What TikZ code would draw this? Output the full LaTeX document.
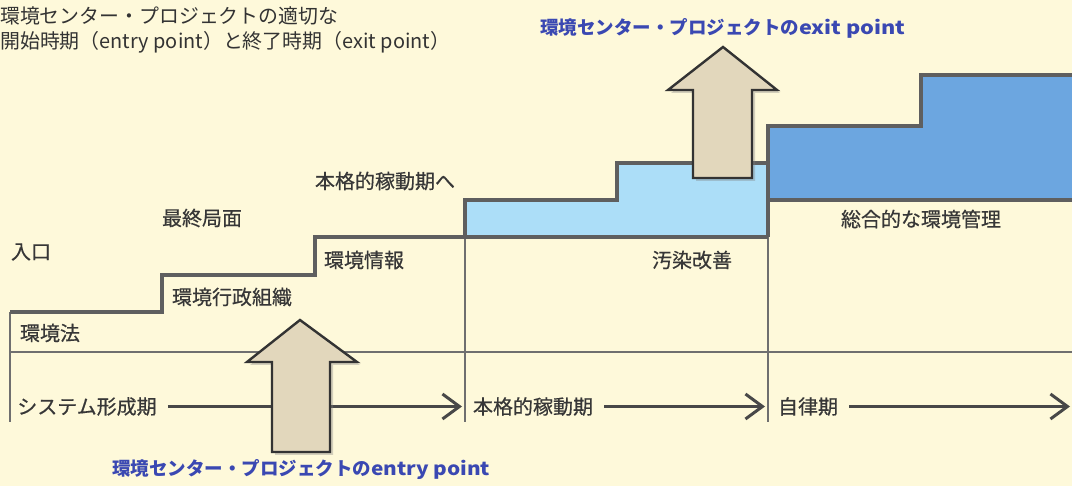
\documentclass[tikz,border=0pt]{standalone}
\usepackage{fontspec}
\setmainfont{Noto Sans CJK JP}
\newfontfamily\lblfont{Noto Sans CJK JP}[FakeBold=0.5]
\usepackage{graphicx}
\usetikzlibrary{arrows.meta,shadows}
\definecolor{bg}{RGB}{254,249,218}
\definecolor{lblue}{RGB}{172,222,248}
\definecolor{dblue}{RGB}{108,166,224}
\definecolor{edge}{RGB}{95,95,95}
\definecolor{beige}{RGB}{226,215,188}
\definecolor{ink}{RGB}{55,55,55}
\definecolor{tline}{RGB}{72,72,72}
\definecolor{bluetxt}{RGB}{58,72,178}
\tikzset{
  barbtip/.tip={Straight Barb[length=17pt,width=25pt,line width=3pt]},
}
\begin{document}
\begin{tikzpicture}[x=1pt,y=-1pt,
  lbl/.style={font=\lblfont\fontsize{20}{22}\selectfont, text=ink, inner sep=0pt},
  titletxt/.style={font=\fontsize{20}{22}\selectfont, text=black!80, inner sep=0pt, anchor=west},
  bluelbl/.style={font=\fontsize{18.5}{20}\selectfont\bfseries, text=bluetxt, inner sep=0pt, anchor=west},
  stair/.style={draw=edge, line width=3.4pt, line join=miter},
  divider/.style={draw=edge!90, line width=2.2pt},
  timeline/.style={draw=tline, line width=3pt, -barbtip},
  bigarrow/.style={fill=beige, draw=black!80, line width=2.4pt, line join=miter, drop shadow={shadow xshift=3pt, shadow yshift=-3pt, opacity=0.35}},
]
% background
\fill[bg] (0,0) rectangle (1072,486);
\useasboundingbox (0,0) rectangle (1072,486);

% coloured steps
\fill[lblue] (465,237) -- (465,200) -- (617,200) -- (617,163) -- (768,163) -- (768,237) -- cycle;
\fill[dblue] (768,200) -- (768,126) -- (921,126) -- (921,75) -- (1072,75) -- (1072,200) -- cycle;

% dividers
\draw[divider] (10,312) -- (10,422);
\draw[divider] (465,237) -- (465,422);
\draw[divider] (768,200) -- (768,422);
\draw[divider] (10,352) -- (1072,352);

% stair outlines
\draw[stair] (10,312) -- (162,312) -- (162,275) -- (315,275) -- (315,237) -- (768,237);
\draw[stair] (465,237) -- (465,200) -- (617,200) -- (617,163) -- (768,163);
\draw[stair] (768,237) -- (768,126) -- (921,126) -- (921,75) -- (1072,75);
\draw[stair] (768,200) -- (1072,200);

% timeline
\node[lbl] (t1) at (87,406.5) {システム形成期};
\node[lbl] (t2) at (533,406.5) {本格的稼動期};
\node[lbl] (t3) at (808,406.5) {自律期};
\coordinate (t1e) at (462,406.5);
\coordinate (t2e) at (765,406.5);
\coordinate (t3e) at (1070,406.5);
\draw[timeline] ([xshift=11pt]t1.east) -- (t1e);
\draw[timeline] ([xshift=11pt]t2.east) -- (t2e);
\draw[timeline] ([xshift=11pt]t3.east) -- (t3e);

% big arrows
\path[bigarrow] (300,320) -- (357,362) -- (330,362) -- (330,452) -- (272,452) -- (272,362) -- (247,362) -- cycle;
\path[bigarrow] (723,47) -- (777,90) -- (752,90) -- (752,178) -- (693,178) -- (693,90) -- (668,90) -- cycle;

% labels
\node[lbl] (iriguchi) at (31,252) {入口};
\node[lbl] (saishu) at (202,218) {最終局面};
\node[lbl] (honkaku) at (385,181) {本格的稼動期へ};
\node[lbl] (joho) at (364,260) {環境情報};
\node[lbl] (soshiki) at (232,297) {環境行政組織};
\node[lbl] (ho) at (50,333) {環境法};
\node[lbl] (osen) at (692,260) {汚染改善};
\node[lbl] (sogo) at (921,219) {総合的な環境管理};

% blue captions
\node[bluelbl] (entry) at (112,470) {環境センター・プロジェクトの\resizebox{119pt}{\height}{entry point}};
\node[bluelbl] (exit) at (540,28) {環境センター・プロジェクトの\resizebox{106pt}{\height}{exit point}};

% title
\node[titletxt] (title1) at (0,16) {\resizebox{338pt}{\height}{環境センター・プロジェクトの適切な}};
\node[titletxt] (title2) at (0,42) {\resizebox{450pt}{\height}{開始時期（entry point）と終了時期（exit point）}};
\end{tikzpicture}
\end{document}
